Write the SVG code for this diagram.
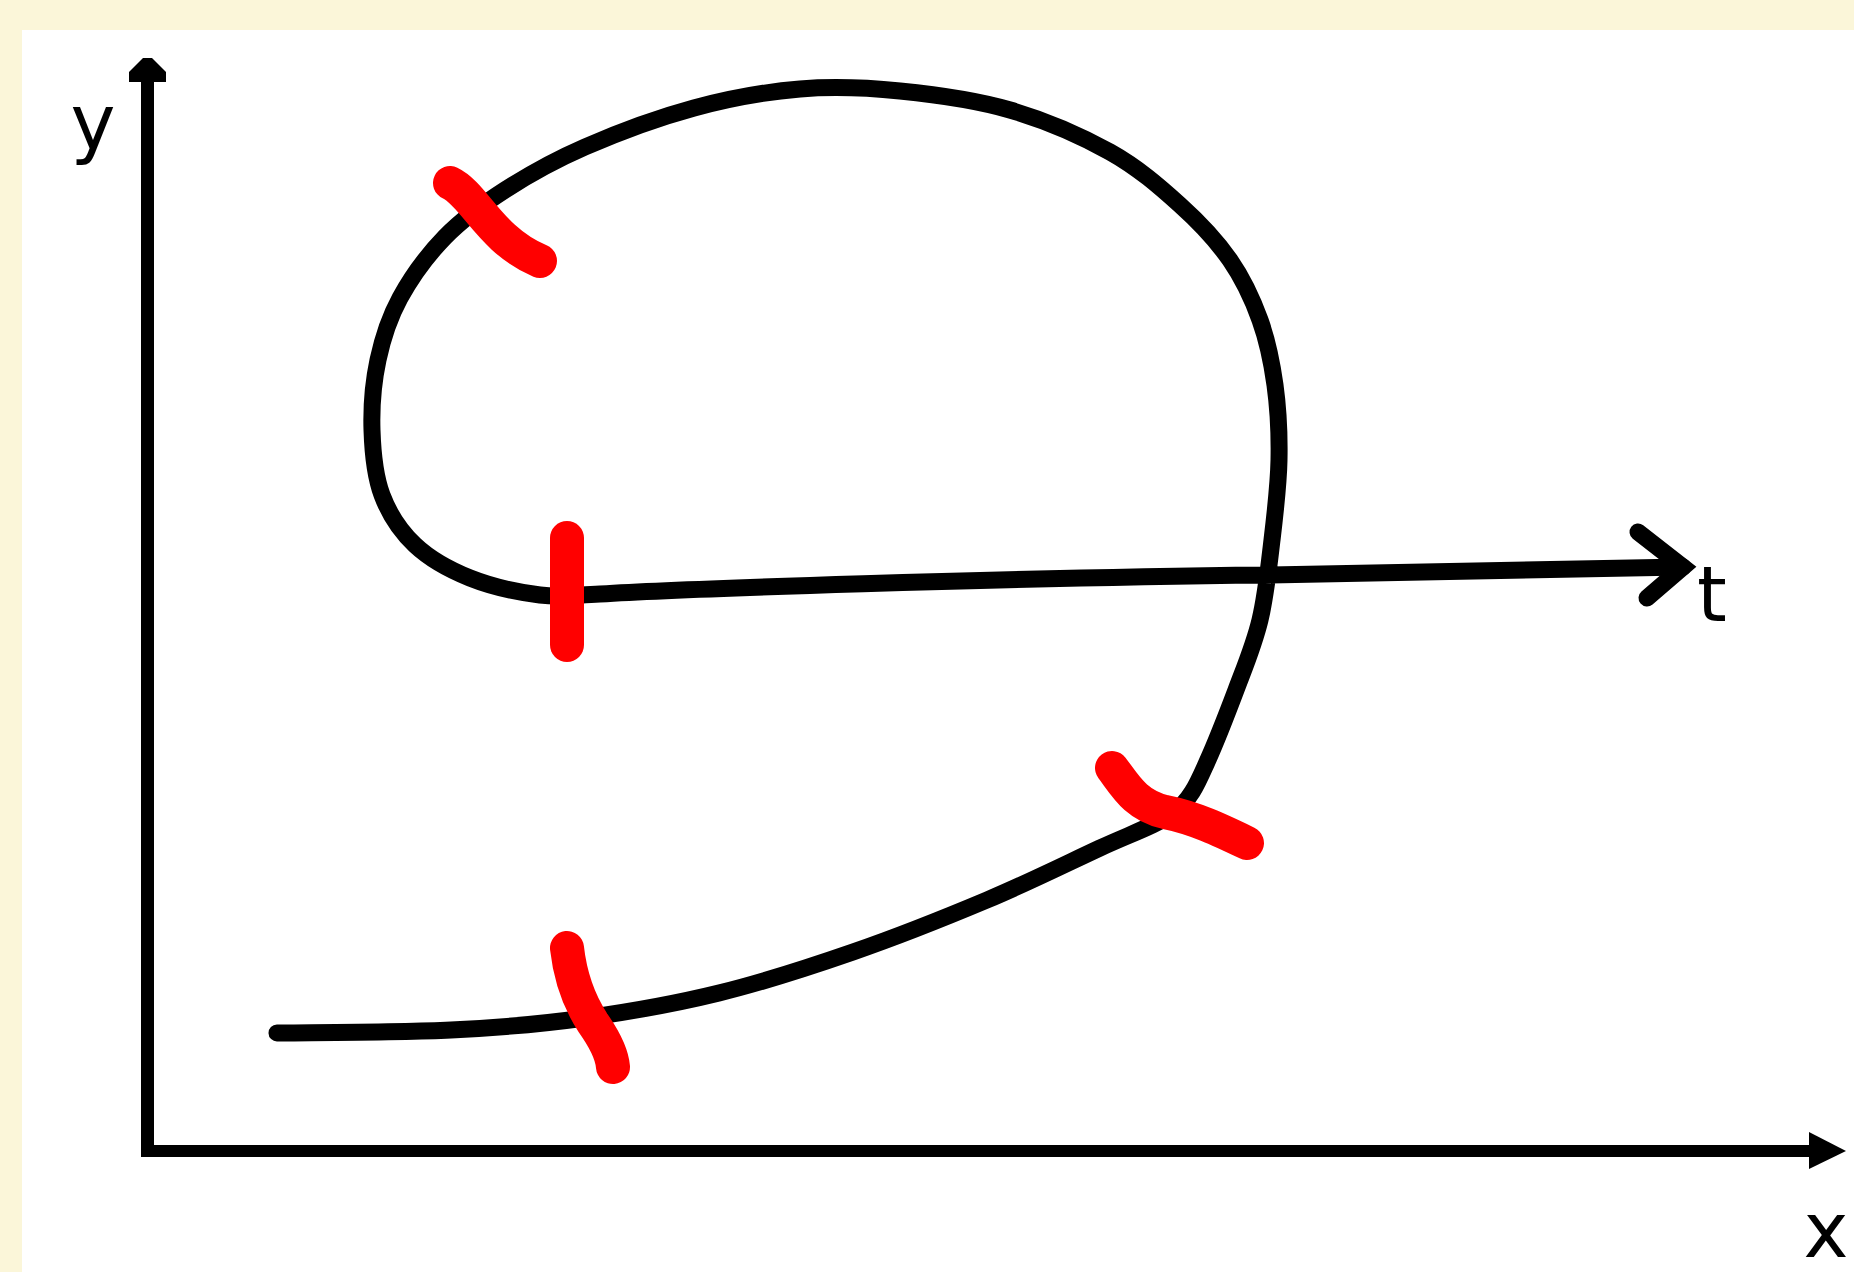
<svg xmlns="http://www.w3.org/2000/svg" width="1854" height="1272" viewBox="0 0 1854 1272">
  <style>
    .ink { fill: none; stroke: #000; stroke-width: 17; stroke-linecap: round; stroke-linejoin: round; }
    .mark { fill: none; stroke: #ff0000; stroke-width: 34; stroke-linecap: round; stroke-linejoin: round; }
    .lbl { font-family: "DejaVu Sans", "Liberation Sans", sans-serif; font-size: 76px; fill: #000; text-anchor: middle; }
  </style>
  <rect x="0" y="0" width="1854" height="1272" fill="#fbf6d9"/>
  <rect x="22" y="30" width="1832" height="1242" fill="#ffffff"/>

  <g id="axes">
    <g id="y-axis">
      <rect x="141" y="80" width="13" height="1077" fill="#000"/>
      <polygon points="143,58 152,58 166,72 166,82 129,82 129,72" fill="#000"/>
    </g>
    <g id="x-axis">
      <rect x="141" y="1145" width="1670" height="12" fill="#000"/>
      <polygon points="1809,1132 1846,1151 1809,1169" fill="#000"/>
    </g>
  </g>

  <g id="connectors">
    <path id="curve" class="ink" d="M277,1033 C306,1032.5 399.7,1032.5 451,1030 C502.3,1027.5 540.3,1024.2 585,1018 C629.7,1011.8 674.3,1004 719,993 C763.7,982 808.3,967.5 853,952 C897.7,936.5 945.8,917.3 987,900 C1028.2,882.7 1068.7,862.5 1100,848 C1131.3,833.5 1155,826 1173,813 C1191,800 1198,782 1207,762 C1217.2,739.5 1227.2,713.3 1236,690 C1244.8,666.7 1254,645 1260,620 C1266,595 1268.8,566.7 1272,540 C1275.2,513.3 1278.5,485.8 1279,460 C1279.5,434.2 1278.2,408.3 1275,385 C1271.8,361.7 1267.5,340.8 1260,320 C1252.5,299.2 1243.3,279.2 1230,260 C1216.7,240.8 1200,223 1180,205 C1160,187 1138.3,167.8 1110,152 C1081.7,136.2 1045,120.2 1010,110 C975,99.8 935,94.5 900,91 C865,87.5 834.3,86.2 800,89 C765.7,91.8 729.8,98.3 694,108 C658.2,117.7 616.5,133.3 585,147 C553.5,160.7 528.3,175 505,190 C481.7,205 462.5,219 445,237 C427.5,255 411.2,277.5 400,298 C388.8,318.5 382.7,338 378,360 C373.3,382 371.3,407.5 372,430 C372.7,452.5 374.8,475.8 382,495 C389.2,514.2 400.3,531.2 415,545 C429.7,558.8 449.2,569.7 470,578 C490.8,586.3 518.3,592.3 540,595 C561.7,597.7 572.7,595.2 600,594 C680,589 1000,578 1265,575 L1683,567"/>
    <polyline id="t-arrowhead" class="ink" style="stroke-linejoin: miter" points="1638,532 1683,567 1647,598"/>
  </g>

  <g id="marks">
    <path id="mark1" class="mark" d="M450,183 C475,195 490,240 540,261"/>
    <path id="mark2" class="mark" d="M567,538 L567,645"/>
    <path id="mark3" class="mark" d="M1112,768 C1125,785 1135,805 1165,812 C1195,818 1220,830 1247,843"/>
    <path id="mark4" class="mark" d="M567,948 C570,975 578,1000 593,1023 C605,1040 612,1055 613,1067"/>
  </g>

  <g id="labels">
    <text id="label-y" class="lbl" x="93" y="149">y</text>
    <text id="label-t" class="lbl" x="1712" y="621">t</text>
    <text id="label-x" class="lbl" x="1826" y="1257">x</text>
  </g>
</svg>
